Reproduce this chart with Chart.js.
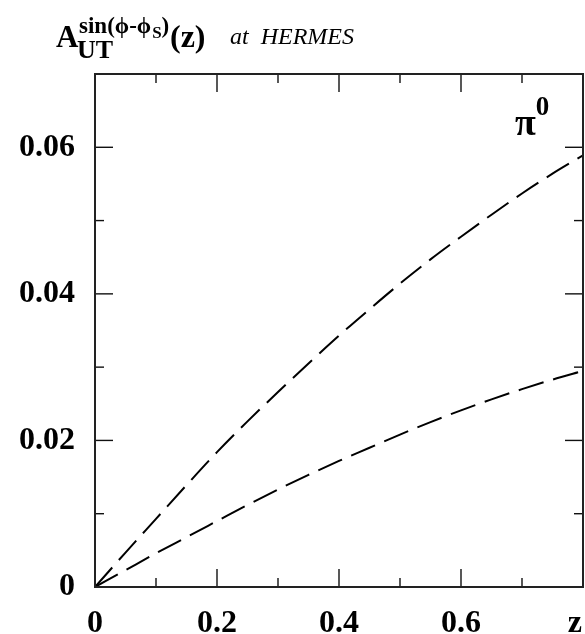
<!DOCTYPE html>
<html>
<head>
<meta charset="utf-8">
<script src="https://cdn.jsdelivr.net/npm/chart.js@4/dist/chart.umd.min.js"></script>
<style>
  html, body { margin: 0; padding: 0; background: #fff; }
  canvas { display: block; }
</style>
</head>
<body>
<canvas id="chart" width="585" height="634"></canvas>
<script>
// z grid and the two asymmetry curves for pi0 production
const zValues    = [0, 0.05, 0.10, 0.15, 0.20, 0.25, 0.30, 0.35, 0.40, 0.45, 0.50, 0.55, 0.60, 0.65, 0.70, 0.75, 0.80];
const upperCurve = [0, 0.0047, 0.0093, 0.0139, 0.0184, 0.0226, 0.0266, 0.0305, 0.0343, 0.0379, 0.0414, 0.0447, 0.0478, 0.0508, 0.0537, 0.0564, 0.0589];
const lowerCurve = [0, 0.0023, 0.0046, 0.0068, 0.0090, 0.0112, 0.0133, 0.0153, 0.0172, 0.0190, 0.0208, 0.0225, 0.0241, 0.0256, 0.0270, 0.0283, 0.0295];

// labelled tick values; the other ticks are drawn as short minor marks
const xTickLabels = ['0', '0.2', '0.4', '0.6'];
const yTickLabels = ['0', '0.02', '0.04', '0.06'];

const SERIF = '"Liberation Serif", "Times New Roman", serif';

function pickLabel(list, value) {
  for (const s of list) {
    if (Math.abs(parseFloat(s) - value) < 1e-6) return s;
  }
  return '';
}

function toPoints(ys) {
  return zValues.map((z, i) => ({ x: z, y: ys[i] }));
}

// frame around the plot area with inward ticks on all four sides
const framePlugin = {
  id: 'frame',
  afterDatasetsDraw(chart) {
    const { ctx, chartArea: a, scales: { x, y } } = chart;
    ctx.save();
    ctx.strokeStyle = '#111';
    ctx.lineWidth = 1.4;
    const seg = (x1, y1, x2, y2) => {
      ctx.beginPath(); ctx.moveTo(x1, y1); ctx.lineTo(x2, y2); ctx.stroke();
    };
    x.ticks.forEach(t => {
      if (t.value <= x.min + 1e-9 || t.value >= x.max - 1e-9) return;
      const px = x.getPixelForValue(t.value);
      const len = t.label ? 18 : 9;
      seg(px, a.bottom, px, a.bottom - len);
      seg(px, a.top, px, a.top + len);
    });
    y.ticks.forEach(t => {
      if (t.value <= y.min + 1e-9 || t.value >= y.max - 1e-9) return;
      const py = y.getPixelForValue(t.value);
      const len = t.label ? 18 : 9;
      seg(a.left, py, a.left + len, py);
      seg(a.right, py, a.right - len, py);
    });
    ctx.strokeStyle = '#222';
    ctx.lineWidth = 2;
    ctx.strokeRect(a.left, a.top, a.right - a.left, a.bottom - a.top);
    ctx.restore();
  }
};

// heading, axis variable and particle label
const textPlugin = {
  id: 'texts',
  afterDraw(chart) {
    const { ctx, scales: { x } } = chart;
    ctx.save();
    ctx.fillStyle = '#000';
    ctx.textBaseline = 'alphabetic';
    ctx.textAlign = 'left';

    const put = (txt, font, px, py) => {
      ctx.font = font;
      ctx.fillText(txt, px, py);
      return px + ctx.measureText(txt).width;
    };

    // A_UT^{sin(phi-phi_S)}(z)  at HERMES
    put('A', 'bold 31px ' + SERIF, 56, 47);
    put('UT', 'bold 26px ' + SERIF, 77, 58);
    let cx = put('sin(\u03D5-\u03D5', 'bold 23px ' + SERIF, 79, 33);
    cx = put('S', 'bold 17px ' + SERIF, cx + 1, 38);
    put(')', 'bold 23px ' + SERIF, cx, 33);
    put('(z)', 'bold 32px ' + SERIF, 170, 47);
    put('at  HERMES', 'italic 24px ' + SERIF, 230, 44);

    // axis variable at the right end of the x axis
    ctx.font = 'bold 32px ' + SERIF;
    ctx.textAlign = 'right';
    ctx.fillText('z', x.getPixelForValue(x.max) - 1, 632);

    // particle label
    ctx.textAlign = 'left';
    const px = put('\u03C0', 'bold 38px ' + SERIF, 515, 135);
    put('0', 'bold 27px ' + SERIF, px, 115);
    ctx.restore();
  }
};

const tickFont = { family: SERIF, size: 32, weight: 'bold' };

const lineStyle = {
  borderColor: '#000',
  borderWidth: 2,
  borderDash: [26, 10],
  pointRadius: 0,
  fill: false,
  cubicInterpolationMode: 'monotone'
};

new Chart(document.getElementById('chart'), {
  type: 'line',
  data: {
    datasets: [
      Object.assign({ data: toPoints(upperCurve) }, lineStyle),
      Object.assign({ data: toPoints(lowerCurve) }, lineStyle)
    ]
  },
  options: {
    responsive: false,
    animation: false,
    devicePixelRatio: 1,
    layout: { padding: { top: 74, right: 2, left: 0, bottom: 0 } },
    plugins: { legend: { display: false }, tooltip: { enabled: false } },
    scales: {
      x: {
        type: 'linear',
        min: 0,
        max: 0.8,
        afterFit(s) { s.height = 47; s.paddingLeft = 0; s.paddingRight = 0; },
        grid: { display: false, drawTicks: false },
        border: { display: false },
        ticks: {
          stepSize: 0.1,
          autoSkip: false,
          maxRotation: 0,
          minRotation: 0,
          padding: 18,
          color: '#000',
          font: tickFont,
          callback: v => pickLabel(xTickLabels, v)
        }
      },
      y: {
        type: 'linear',
        min: 0,
        max: 0.07,
        afterFit(s) { s.width = 95; s.paddingTop = 0; s.paddingBottom = 0; },
        grid: { display: false, drawTicks: false },
        border: { display: false },
        ticks: {
          stepSize: 0.01,
          autoSkip: false,
          padding: 20,
          color: '#000',
          font: tickFont,
          callback: v => pickLabel(yTickLabels, v)
        }
      }
    }
  },
  plugins: [framePlugin, textPlugin]
});
</script>
</body>
</html>
